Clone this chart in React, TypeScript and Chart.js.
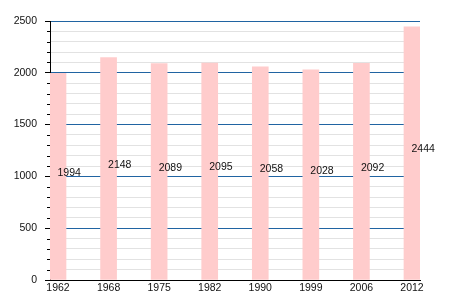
import React, { useEffect, useRef } from "react";
import { Chart, registerables } from "chart.js";

Chart.register(...registerables);

const years = ["1962", "1968", "1975", "1982", "1990", "1999", "2006", "2012"];
const population = [1994, 2148, 2089, 2095, 2058, 2028, 2092, 2444];

const FONT = "'Liberation Sans', Arial, sans-serif";
const BLUE = "#2064a2";
const GRAY = "#e2e2e2";
const BAR = "#ffcccc";

function alignPx(v: number) {
  return Math.round(v) + 0.5;
}

const labelsPlugin = {
  id: "valueLabels",
  afterDatasetsDraw(chart: any) {
    const ctx = chart.ctx;
    const meta = chart.getDatasetMeta(0);
    const yScale = chart.scales.y;
    ctx.save();
    ctx.font = `10.5px ${FONT}`;
    ctx.fillStyle = "#111";
    ctx.textAlign = "left";
    ctx.textBaseline = "middle";
    meta.data.forEach((bar: any, i: number) => {
      const v = population[i];
      const y = yScale.getPixelForValue(v / 2) - 4;
      ctx.fillText(String(v), bar.x - 0.5, y);
    });
    ctx.restore();
  },
};

const minorTicksPlugin = {
  id: "minorTicks",
  afterDraw(chart: any) {
    const ctx = chart.ctx;
    const yScale = chart.scales.y;
    const left = chart.chartArea.left;
    ctx.save();
    ctx.strokeStyle = "#000";
    ctx.lineWidth = 1;
    ctx.beginPath();
    yScale.ticks.forEach((t: any) => {
      if (t.value % 500 !== 0) {
        const y = alignPx(yScale.getPixelForValue(t.value));
        ctx.moveTo(left - 3, y);
        ctx.lineTo(left, y);
      }
    });
    ctx.stroke();
    ctx.restore();
  },
};

export default function App() {
  const ref = useRef<HTMLCanvasElement | null>(null);
  useEffect(() => {
    if (!ref.current) return;
    const chart = new Chart(ref.current, {
      type: "bar",
      data: {
        datasets: [
          {
            data: population.map((v, i) => ({ x: i, y: v })),
            backgroundColor: BAR,
            borderWidth: 0,
            barThickness: 16,
          },
        ],
      },
      options: {
        animation: false,
        responsive: false,
        layout: { padding: { left: 0, top: 21, right: 30, bottom: 0 } },
        plugins: {
          legend: { display: false },
          tooltip: { enabled: false },
        },
        scales: {
          x: {
            type: "linear",
            offset: false,
            min: -0.1584,
            max: 7.1584,
            afterBuildTicks: (axis: any) => {
              axis.ticks = years.map((_, i) => ({ value: i }));
            },
            afterFit: (scale: any) => {
              scale.height = 20;
            },
            grid: { drawOnChartArea: false, drawTicks: false },
            border: { display: true, color: "#000", width: 1 },
            ticks: {
              autoSkip: false,
              maxRotation: 0,
              padding: 2,
              color: "#111",
              font: { family: FONT, size: 10.5 },
              callback: (v: any) => years[v] ?? "",
            },
          },
          y: {
            min: 0,
            max: 2500,
            afterFit: (scale: any) => {
              scale.width = 50;
            },
            border: { display: true, color: "#000", width: 1 },
            grid: {
              color: (c: any) =>
                c.tick && c.tick.value % 500 === 0 ? (c.tick.value === 0 ? "#000" : BLUE) : GRAY,
              tickColor: (c: any) =>
                c.tick && c.tick.value % 500 === 0 ? "#000" : "rgba(0,0,0,0)",
              tickLength: 5,
              lineWidth: 1,
            },
            ticks: {
              stepSize: 100,
              autoSkip: false,
              padding: 8,
              color: "#111",
              font: { family: FONT, size: 10.5 },
              callback: (v: any) => (Number(v) % 500 === 0 ? String(v) : ""),
            },
          },
        },
      },
      plugins: [labelsPlugin, minorTicksPlugin],
    });
    return () => chart.destroy();
  }, []);
  return (
    <div style={{ position: "absolute", left: 0, top: 0, width: 450, height: 300, background: "#fff" }}>
      <canvas ref={ref} width={450} height={300} style={{ display: "block" }} />
    </div>
  );
}
